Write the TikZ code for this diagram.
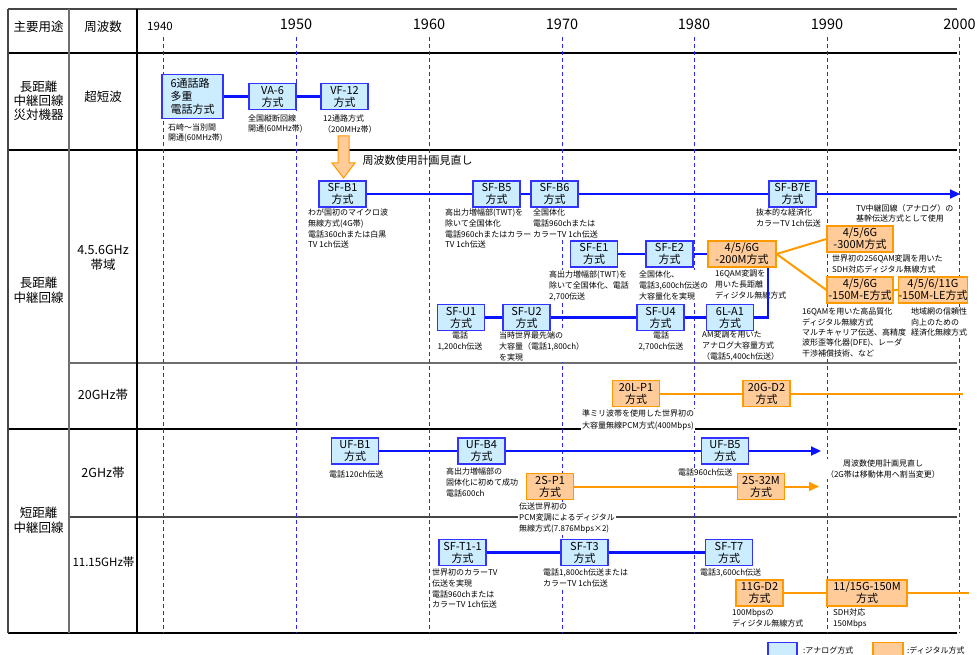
\documentclass[tikz,border=0pt]{standalone}
\usepackage{fontspec}
\setmainfont{Noto Sans CJK JP}
\usetikzlibrary{arrows.meta,calc}
\definecolor{anafill}{RGB}{204,236,255}
\definecolor{anadraw}{RGB}{51,51,255}
\definecolor{digfill}{RGB}{255,204,153}
\definecolor{digdraw}{RGB}{255,153,0}
\definecolor{linblue}{RGB}{10,20,255}
\definecolor{linorange}{RGB}{255,153,0}
\definecolor{gridblue}{RGB}{40,40,255}
\definecolor{tabgray}{RGB}{70,70,70}
\definecolor{tabgray2}{RGB}{110,110,110}
\tikzset{
  ana/.style={draw=anadraw, fill=anafill, line width=1.2pt, minimum width=47pt, minimum height=26pt, inner sep=0pt, align=center, font=\fontsize{11}{12}\selectfont},
  dig/.style={ana, draw=digdraw, fill=digfill},
  notebox/.style={anchor=north west, fill=white, inner sep=1pt, align=left, font=\fontsize{8}{10.6}\selectfont},
  notec/.style={notebox, anchor=north, align=center},
  rowlab/.style={align=center, font=\fontsize{12.5}{15}\selectfont},
  yearlab/.style={font=\fontsize{14.5}{15}\selectfont},
  lineb/.style={draw=linblue, line width=2.2pt},
  lineo/.style={draw=linorange, line width=2pt},
  tri/.style={-{Triangle[length=10pt,width=9pt]}},
  yeardash/.style={draw=gridblue, line width=1pt, dash pattern=on 4pt off 3pt},
}
\begin{document}
\begin{tikzpicture}[x=1pt,y=-1pt]
\useasboundingbox (0,0) rectangle (977,655);
% ---------- table ----------
\draw[tabgray, line width=2pt] (8,9) -- (957,9);
\draw[black, line width=1.2pt] (8,53) -- (957,53);
\draw[black, line width=1.2pt] (8,150) -- (957,150);
\draw[tabgray2, line width=1.2pt] (69,363) -- (957,363);
\draw[black, line width=1.2pt] (8,429) -- (957,429);
\draw[tabgray, line width=1.5pt] (69,517) -- (957,517);
\draw[black, line width=1.5pt] (8,633) -- (957,633);
\draw[tabgray, line width=1.5pt] (8,9) -- (8,633);
\draw[tabgray2, line width=1.5pt] (69,9) -- (69,633);
\draw[black, line width=1.2pt] (137,9) -- (137,633);
% ---------- years ----------
\node[font=\fontsize{11.5}{12}\selectfont] (y1940) at (160,26) {1940};
\node[yearlab] (y1950) at (296,24) {1950};
\node[yearlab] (y1960) at (429,24) {1960};
\node[yearlab] (y1970) at (562,24) {1970};
\node[yearlab] (y1980) at (694,24) {1980};
\node[yearlab] (y1990) at (827,24) {1990};
\node[yearlab] (y2000) at (959.5,24) {2000};
\foreach \xx in {163,296,429,562,694,827,959} \draw[yeardash] (\xx,37) -- (\xx,633);
% ---------- row labels ----------
\node[rowlab] (h1) at (38.5,27) {主要用途};
\node[rowlab] (h2) at (103,27) {周波数};
\node[rowlab, font=\fontsize{12.5}{14}\selectfont] (l1) at (38.5,101) {長距離\\中継回線\\災対機器};
\node[rowlab] (f1) at (103,97) {超短波};
\node[rowlab] (l2) at (38.5,290) {長距離\\中継回線};
\node[rowlab] (f2) at (103,258) {4.5.6GHz\\帯域};
\node[rowlab] (f3) at (103,395) {20GHz帯};
\node[rowlab] (l3) at (38.5,520.5) {短距離\\中継回線};
\node[rowlab] (f4) at (103,473) {2GHz帯};
\node[rowlab, font=\fontsize{11.5}{15}\selectfont] (f5) at (103.5,562) {11.15GHz帯};
% ---------- notes (white backed) ----------
\node[notebox, font=\fontsize{8}{10}\selectfont] (n-r6) at (167,123) {石崎～当別間\\開通(60MHz帯)};
\node[notebox, font=\fontsize{8}{10}\selectfont] (n-va6) at (247,114) {全国縦断回線\\開通(60MHz帯)};
\node[notebox, font=\fontsize{8}{10.5}\selectfont] (n-vf12) at (322,114) {12通路方式\\（200MHz帯）};
\node[notebox] (n-sfb1) at (307,208) {わが国初のマイクロ波\\無線方式(4G帯)\\電話360chまたは白黒\\TV 1ch伝送};
\node[notebox] (n-sfb5) at (444,208) {高出力増幅部(TWT)を\\除いて全国体化\\電話960chまたはカラー\\TV 1ch伝送};
\node[notebox] (n-sfb6) at (532,208) {全国体化\\電話960chまたは\\カラーTV 1ch伝送};
\node[notebox] (n-sfb7e) at (755,208) {抜本的な経済化\\カラーTV 1ch伝送};
\node[notebox] (n-tv) at (855,203) {TV中継回線（アナログ）の\\基幹伝送方式として使用};
\node[notebox] (n-sfe1) at (548,270) {高出力増幅部(TWT)を\\除いて全国体化、電話\\2,700伝送};
\node[notebox] (n-sfe2) at (638,270) {全国体化、\\電話3,600ch伝送の\\大容量化を実現};
\node[notebox] (n-m200) at (714,269) {16QAM変調を\\用いた長距離\\ディジタル無線方式};
\node[notebox] (n-m300) at (831,254) {世界初の256QAM変調を用いた\\SDH対応ディジタル無線方式};
\node[notebox, font=\fontsize{8}{10.3}\selectfont] (n-m150e) at (801,307) {16QAMを用いた高品質化\\ディジタル無線方式\\マルチキャリア伝送、高精度\\波形歪等化器(DFE)、レーダ\\干渉補償技術、など};
\node[notebox, font=\fontsize{8}{10.3}\selectfont] (n-m150le) at (910,307) {地域網の信頼性\\向上のための\\経済化無線方式};
\node[notec] (n-sfu1) at (460,331) {電話\\1,200ch伝送};
\node[notebox] (n-sfu2) at (498,331) {当時世界最先端の\\大容量（電話1,800ch）\\を実現};
\node[notec] (n-sfu4) at (661,331) {電話\\2,700ch伝送};
\node[notebox] (n-la1) at (701,330) {AM変調を用いた\\アナログ大容量方式\\（電話5,400ch伝送）};
\node[notebox, font=\fontsize{8}{11.4}\selectfont] (n-l20) at (581,409) {準ミリ波帯を使用した世界初の\\大容量無線PCM方式(400Mbps)};
\node[notebox] (n-ufb1) at (328,470) {電話120ch伝送};
\node[notebox] (n-ufb4) at (445,467) {高出力増幅部の\\固体化に初めて成功\\電話600ch};
\node[notebox] (n-ufb5) at (677,468) {電話960ch伝送};
\node[notebox, font=\fontsize{8}{11}\selectfont] (n-s2p1) at (518,502) {伝送世界初の\\PCM変調によるディジタル\\無線方式(7.876Mbps×2)};
\node[notec] (n-rev2) at (883,459) {周波数使用計画見直し\\（2G帯は移動体用へ割当変更）};
\node[notebox] (n-sft11) at (431,568) {世界初のカラーTV\\伝送を実現\\電話960chまたは\\カラーTV 1ch伝送};
\node[notebox] (n-sft3) at (542,568) {電話1,800ch伝送または\\カラーTV 1ch伝送};
\node[notebox] (n-sft7) at (699,568) {電話3,600ch伝送};
\node[notebox] (n-g11) at (731,608) {100Mbpsの\\ディジタル無線方式};
\node[notebox] (n-g1115) at (832,608) {SDH対応\\150Mbps};
% ---------- row 1 ----------
\node[ana, minimum width=61pt, minimum height=44pt, align=left, font=\fontsize{11}{13}\selectfont] (r6) at (192.5,96.5) {6通話路\\多重\\電話方式};
\node[ana] (va6) at (272.5,96.5) {VA-6\\方式};
\node[ana] (vf12) at (344.5,96.5) {VF-12\\方式};
\draw[lineb] (r6) -- (va6) -- (vf12);
% block arrow + text
\draw[draw=digdraw, fill=digfill, line width=1pt] (338,136) -- (349,136) -- (349,163) -- (355,163) -- (343.5,178) -- (332,163) -- (338,163) -- cycle;
\node[anchor=west, font=\fontsize{11}{12}\selectfont] (rev1) at (359,160) {周波数使用計画見直し};
% ---------- row 2 ----------
\node[ana] (sfb1) at (342.5,194) {SF-B1\\方式};
\node[ana] (sfb5) at (496.5,194) {SF-B5\\方式};
\node[ana] (sfb6) at (554.5,194) {SF-B6\\方式};
\node[ana] (sfb7e) at (792.5,194) {SF-B7E\\方式};
\coordinate (b-end) at (960,194);
\draw[lineb] (sfb1) -- (sfb5) -- (sfb6) -- (sfb7e);
\draw[lineb, tri] (sfb7e) -- (b-end);
\node[ana] (sfe1) at (594,254) {SF-E1\\方式};
\node[ana] (sfe2) at (669.5,254) {SF-E2\\方式};
\node[dig, minimum width=68pt] (m200) at (742,254) {4/5/6G\\-200M方式};
\draw[lineb] (sfe1) -- (sfe2) -- (m200);
\node[ana] (sfu1) at (461,317.5) {SF-U1\\方式};
\node[ana] (sfu2) at (526.5,317.5) {SF-U2\\方式};
\node[ana] (sfu4) at (660.5,317.5) {SF-U4\\方式};
\node[ana] (la1) at (730,317.5) {6L-A1\\方式};
\draw[lineb] (sfu1) -- (sfu2) -- (sfu4) -- (la1);
\draw[lineb] (la1) -| ([xshift=26pt]m200.south);
\node[dig, minimum width=66pt] (m300) at (860,239) {4/5/6G\\-300M方式};
\node[dig, minimum width=66pt] (m150e) at (860,290) {4/5/6G\\-150M-E方式};
\node[dig, minimum width=68pt] (m150le) at (933,290) {4/5/6/11G\\-150M-LE方式};
\draw[lineo] (m200.east) -- (m300.west);
\draw[lineo] (m200.east) -- (m150e.west);
\draw[lineo] (m150e) -- (m150le);
% ---------- row 3 ----------
\node[dig] (l20p1) at (636,393.5) {20L-P1\\方式};
\node[dig] (g20d2) at (766.5,393.5) {20G-D2\\方式};
\coordinate (o20-end) at (963,393.5);
\draw[lineo] (l20p1) -- (g20d2) -- (o20-end);
% ---------- row 4 ----------
\node[ana] (ufb1) at (355,451) {UF-B1\\方式};
\node[ana] (ufb4) at (481.5,451) {UF-B4\\方式};
\node[ana] (ufb5) at (725,451) {UF-B5\\方式};
\coordinate (uf-end) at (821,451);
\draw[lineb] (ufb1) -- (ufb4) -- (ufb5);
\draw[lineb, tri] (ufb5) -- (uf-end);
\node[dig] (s2p1) at (550,486.5) {2S-P1\\方式};
\node[dig] (s232m) at (761,486.5) {2S-32M\\方式};
\coordinate (s2-end) at (819,486.5);
\draw[lineo] (s2p1) -- (s232m);
\draw[lineo, tri] (s232m) -- (s2-end);
% ---------- row 5 ----------
\node[ana] (sft11) at (462.5,552.5) {SF-T1-1\\方式};
\node[ana] (sft3) at (584.5,552.5) {SF-T3\\方式};
\node[ana] (sft7) at (729,552.5) {SF-T7\\方式};
\draw[lineb] (sft11) -- (sft3) -- (sft7);
\node[dig] (g11d2) at (759.5,593) {11G-D2\\方式};
\node[dig, minimum width=80pt] (g1115) at (867,593) {11/15G-150M\\方式};
\coordinate (g-end) at (969,593);
\draw[lineo] (g11d2) -- (g1115) -- (g-end);
% ---------- legend ----------
\node[ana, minimum width=29pt, minimum height=13pt] (lg1) at (782.5,649) {};
\node[anchor=west, inner sep=0pt, font=\fontsize{8}{10}\selectfont] (lg1t) at (803,650) {:アナログ方式};
\node[dig, minimum width=30pt, minimum height=13pt] (lg2) at (888,649) {};
\node[anchor=west, inner sep=0pt, font=\fontsize{8}{10}\selectfont] (lg2t) at (907,650) {:ディジタル方式};
\end{tikzpicture}
\end{document}
